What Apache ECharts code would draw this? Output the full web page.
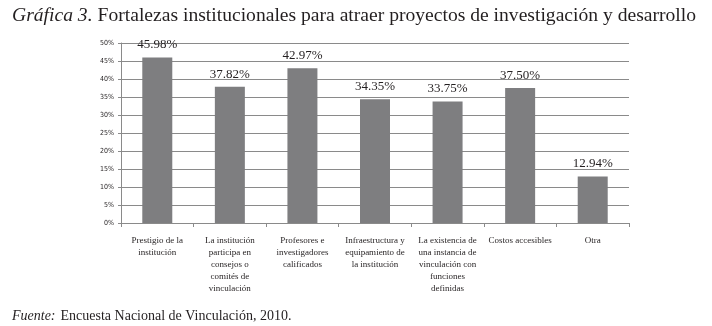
<!DOCTYPE html>
<html>
<head>
<meta charset="utf-8">
<script src="https://cdn.jsdelivr.net/npm/echarts@6/dist/echarts.min.js"></script>
<style>
  html, body { margin: 0; padding: 0; background: #fff; }
  #chart { width: 712px; height: 326px; }
</style>
</head>
<body>
<div id="chart"></div>
<script>
// categorías del eje x
const categories = [
    'Prestigio de la\ninstitución',
    'La institución\nparticipa en\nconsejos o\ncomités de\nvinculación',
    'Profesores e\ninvestigadores\ncalificados',
    'Infraestructura y\nequipamiento de\nla institución',
    'La existencia de\nuna instancia de\nvinculación con\nfunciones\ndefinidas',
    'Costos accesibles',
    'Otra'
];
// porcentajes
const values = [45.98, 37.82, 42.97, 34.35, 33.75, 37.50, 12.94];
const yTicks = [0, 5, 10, 15, 20, 25, 30, 35, 40, 45, 50];

const serif = '"Liberation Serif", "DejaVu Serif", serif';
const chart = echarts.init(document.getElementById('chart'));
const option = {
    animation: false,
    backgroundColor: '#fff',
    title: [
        {
            text: '{i|Gráfica 3.} {n|Fortalezas institucionales para atraer proyectos de investigación y desarrollo}',
            left: 7,
            top: 1,
            textStyle: {
                fontWeight: 'normal',
                rich: {
                    i: { fontFamily: serif, fontStyle: 'italic', fontWeight: 'normal', fontSize: 19.6, color: '#231f20' },
                    n: { fontFamily: serif, fontWeight: 'normal', fontSize: 19.6, color: '#231f20' }
                }
            }
        },
        {
            text: '{i|Fuente:} {n|Encuesta Nacional de Vinculación, 2010.}',
            left: 7,
            top: 302,
            textStyle: {
                fontWeight: 'normal',
                rich: {
                    i: { fontFamily: serif, fontStyle: 'italic', fontWeight: 'normal', fontSize: 14, color: '#231f20' },
                    n: { fontFamily: serif, fontWeight: 'normal', fontSize: 14, color: '#231f20' }
                }
            }
        }
    ],
    grid: { left: 121, right: 83, top: 43, bottom: 103 },
    xAxis: {
        type: 'category',
        data: categories,
        axisLine: { lineStyle: { color: '#8a8a8a', width: 1 } },
        axisTick: { show: true, length: 4, lineStyle: { color: '#8a8a8a' } },
        axisLabel: {
            interval: 0,
            margin: 12,
            fontFamily: serif,
            fontSize: 9,
            lineHeight: 12,
            color: '#231f20',
            align: 'center'
        }
    },
    yAxis: {
        type: 'value',
        min: 0,
        max: 50,
        interval: 5,
        axisLine: { show: true, lineStyle: { color: '#8a8a8a', width: 1 } },
        axisTick: { show: true, length: 3, lineStyle: { color: '#8a8a8a' } },
        splitLine: { lineStyle: { color: '#8a8a8a', width: 1 } },
        axisLabel: {
            margin: 7,
            fontFamily: '"DejaVu Sans Condensed", "Liberation Sans Narrow", sans-serif',
            fontSize: 7,
            color: '#231f20',
            formatter: v => yTicks.includes(v) ? v + '%' : ''
        }
    },
    series: [
        {
            type: 'bar',
            data: values,
            barWidth: 30,
            itemStyle: { color: '#7e7e80' },
            label: {
                show: true,
                position: 'top',
                distance: 6,
                fontFamily: serif,
                fontSize: 13,
                color: '#231f20',
                formatter: p => p.value.toFixed(2) + '%'
            }
        }
    ]
};
chart.setOption(option);
</script>
</body>
</html>
